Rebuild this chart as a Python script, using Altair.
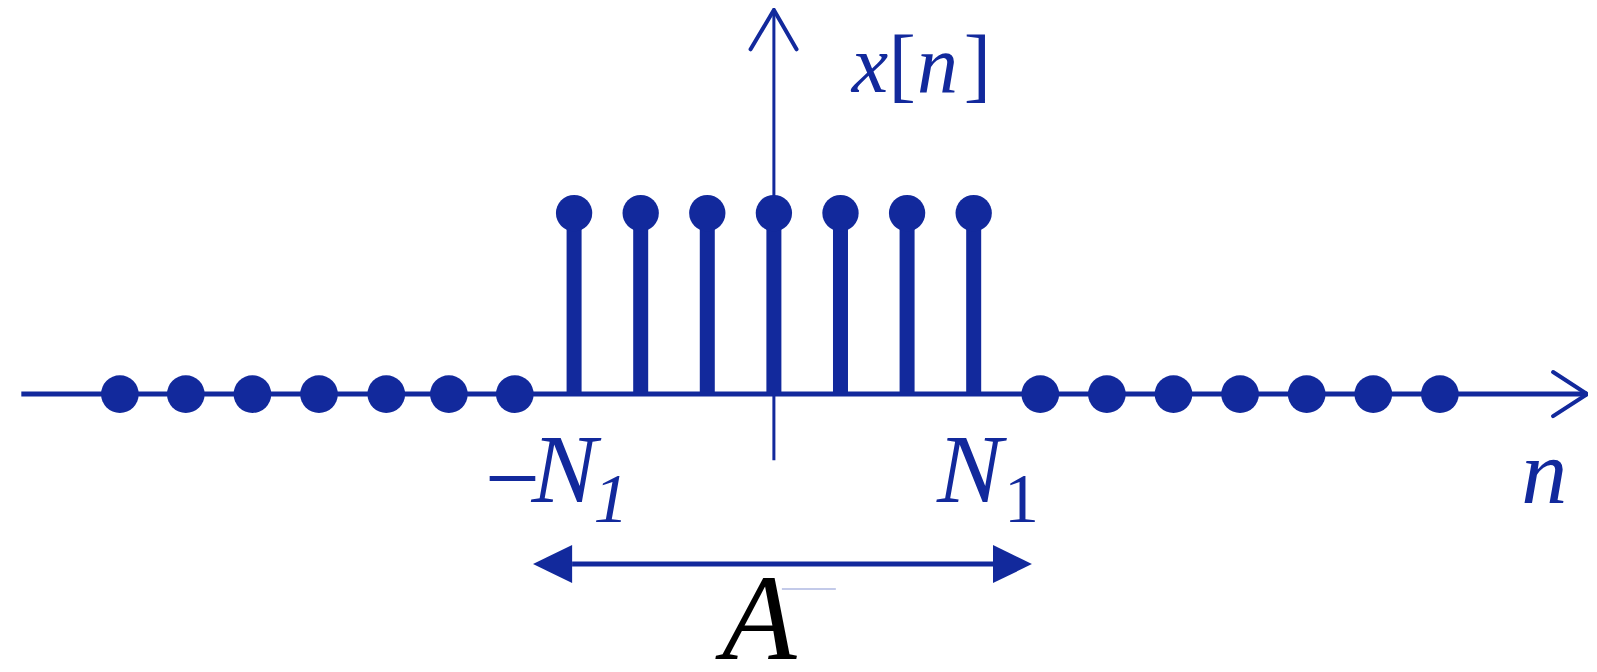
import altair as alt
import pandas as pd

# ---- data (signal samples, in units of n and amplitude) ----
stem_n = [-3, -2, -1, 0, 1, 2, 3]
stem_amp = [1, 1, 1, 1, 1, 1, 1]
zero_left_n = [-9.82, -8.83, -7.83, -6.83, -5.82, -4.88, -3.89]
zero_right_n = [4, 5, 6, 7, 8, 9, 10]
zero_amp = [0, 0, 0, 0, 0, 0, 0]

# axes extents (data units)
h_axis = [-11.30, 12.21]
v_axis = [-0.365, 2.122]
# arrow span for the width annotation A
span = [-3.617, 3.875]

BLUE = "#12299c"
FONT = "Liberation Serif"

xs = alt.Scale(domain=[-11.5, 12.224], nice=False, zero=False)
ys = alt.Scale(domain=[-1.469, 2.1331], nice=False, zero=False)


def X(f, **kw):
    return alt.X(f, type="quantitative", scale=xs, axis=None, **kw)


def Y(f, **kw):
    return alt.Y(f, type="quantitative", scale=ys, axis=None, **kw)


# axis lines
h_df = pd.DataFrame({"x": [h_axis[0]], "x2": [h_axis[1]], "y": [0]})
v_df = pd.DataFrame({"x": [0], "y": [v_axis[0]], "y2": [v_axis[1]]})
h_line = alt.Chart(h_df).mark_rule(color=BLUE, strokeWidth=5).encode(
    x=X("x"), x2="x2", y=Y("y"))
v_line = alt.Chart(v_df).mark_rule(color=BLUE, strokeWidth=3).encode(
    x=X("x"), y=Y("y"), y2="y2")

# open arrow heads on axes
chev_df = pd.DataFrame({
    "id": ["h", "h", "h", "v", "v", "v"],
    "o": [0, 1, 2, 0, 1, 2],
    "x": [11.70, h_axis[1], 11.70, -0.35, 0, 0.34],
    "y": [0.122, 0, -0.122, 1.905, v_axis[1], 1.905],
})
chev = alt.Chart(chev_df).mark_line(color=BLUE, strokeWidth=4, strokeCap="round",
                                    strokeJoin="miter").encode(
    x=X("x"), y=Y("y"), detail="id:N", order="o:Q")

# stems
stem_df = pd.DataFrame({"n": stem_n, "amp": stem_amp, "base": [0] * len(stem_n)})
stems = alt.Chart(stem_df).mark_rule(color=BLUE, strokeWidth=15).encode(
    x=X("n"), y=Y("base"), y2="amp")
tops = alt.Chart(stem_df).mark_circle(color=BLUE, size=1320, opacity=1).encode(
    x=X("n"), y=Y("amp"))

zero_df = pd.DataFrame({"n": zero_left_n + zero_right_n, "amp": zero_amp + zero_amp})
zeros = alt.Chart(zero_df).mark_circle(color=BLUE, size=1420, opacity=1).encode(
    x=X("n"), y=Y("amp"))

# double arrow for A
arr_y = -0.939
arr_df = pd.DataFrame({"x": [-3.03], "x2": [3.29], "y": [arr_y]})
arr_line = alt.Chart(arr_df).mark_rule(color=BLUE, strokeWidth=5).encode(
    x=X("x"), x2="x2", y=Y("y"))
tri_df = pd.DataFrame({
    "side": ["l", "l", "r", "r"],
    "x": [span[0], -3.03, 3.29, span[1]],
    "y": [arr_y, arr_y - 0.105, arr_y - 0.105, arr_y],
    "y2": [arr_y, arr_y + 0.105, arr_y + 0.105, arr_y],
})
tris = alt.Chart(tri_df).mark_area(color=BLUE, opacity=1).encode(
    x=X("x"), y=Y("y"), y2="y2", detail="side:N")

# faint dash near A
dash_df = pd.DataFrame({"x": [0.12], "x2": [0.93], "y": [-1.077]})
dash = alt.Chart(dash_df).mark_rule(color="#c3cae9", strokeWidth=2).encode(
    x=X("x"), x2="x2", y=Y("y"))


def text_layer(rows, size, italic=True, color=BLUE):
    df = pd.DataFrame(rows, columns=["t", "x", "y"])
    kw = dict(font=FONT, fontSize=size, align="left", baseline="alphabetic", color=color)
    if italic:
        kw["fontStyle"] = "italic"
    return alt.Chart(df).mark_text(**kw).encode(x=X("x"), y=Y("y"), text="t:N")


XN_Y = 1.669
t_xn_it = text_layer([["x", 1.17, XN_Y], ["n", 2.15, XN_Y]], 82)
t_xn_up = text_layer([["[", 1.72, XN_Y], ["]", 2.85, XN_Y]], 82, italic=False)
t_n = text_layer([["n", 11.22, -0.602]], 92)
t_minus = text_layer([["\u2212", -4.34, -0.646]], 98, italic=False)
t_N = text_layer([["N", -3.64, -0.597], ["N", 2.45, -0.597]], 98)
t_sub_it = text_layer([["1", -2.71, -0.707]], 70)
t_sub_up = text_layer([["1", 3.455, -0.707]], 70, italic=False)
t_A = alt.Chart(pd.DataFrame({"t": ["A"], "x": [-0.22], "y": [-1.464]})).mark_text(
    font=FONT, fontSize=122, fontStyle="italic", align="center",
    baseline="alphabetic", color="#000000").encode(x=X("x"), y=Y("y"), text="t:N")

chart = alt.layer(
    h_line, v_line, chev, stems, tops, zeros, arr_line, tris, dash,
    t_xn_it, t_xn_up, t_n, t_minus, t_N, t_sub_it, t_sub_up, t_A,
).properties(
    width=1580, height=652, padding=0,
    autosize=alt.AutoSizeParams(type="none"),
    background="white",
).configure_view(stroke=None)

chart.save("out.html", embed_options={"renderer": "svg", "actions": False})
